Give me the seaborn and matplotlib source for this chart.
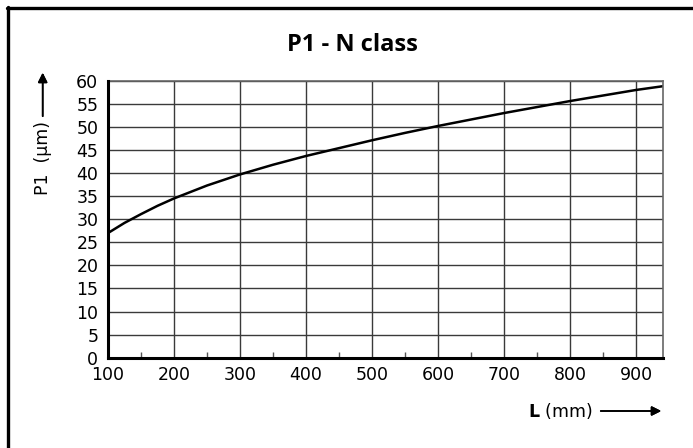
import numpy as np
import pandas as pd
import seaborn as sns
import matplotlib
matplotlib.use("Agg")
import matplotlib.pyplot as plt
from matplotlib.lines import Line2D

# Data
L_mm = [100, 125, 150, 175, 200, 225, 250, 275, 300, 350, 400, 450, 500, 550, 600, 650, 700, 750, 800, 850, 900, 940]
P1_um = [27.0, 29.2, 31.1, 32.9, 34.5, 35.9, 37.3, 38.5, 39.7, 41.8, 43.7, 45.4, 47.1, 48.7, 50.2, 51.6, 53.0, 54.3, 55.6, 56.8, 58.0, 58.8]
x_ticks = [100, 200, 300, 400, 500, 600, 700, 800, 900]
x_minor = [150, 250, 350, 450, 550, 650, 750, 850]
y_ticks = list(range(0, 61, 5))
title = "P1 - N class"

df = pd.DataFrame({"L": L_mm, "P1": P1_um})

sns.set_theme(style="white")
plt.rcParams['font.family'] = ['DejaVu Sans']
plt.rcParams['text.color'] = 'black'
plt.rcParams['xtick.color'] = 'black'
plt.rcParams['ytick.color'] = 'black'

W, H = 693, 448
fig = plt.figure(figsize=(W / 100, H / 100), dpi=100)
ax = fig.add_axes([108 / W, 1 - 357.7 / H, (662.7 - 108) / W, (357.7 - 80.7) / H])

sns.lineplot(data=df, x="L", y="P1", ax=ax, color="black", linewidth=1.8)

ax.set_xlim(100, 940)
ax.set_ylim(0, 60)
ax.set_xticks(x_ticks)
ax.set_xticks(x_minor, minor=True)
ax.set_yticks(y_ticks)
ax.set_xticklabels([str(v) for v in x_ticks], fontsize=12.5, color="black")
ax.set_yticklabels([str(v) for v in y_ticks], fontsize=12.5, color="black")
ax.tick_params(axis="x", which="major", direction="out", length=4, width=1.2, color="#333333", pad=2)
ax.tick_params(axis="x", which="minor", direction="in", length=4, width=1, color="#555555", bottom=True)
ax.tick_params(axis="y", which="major", direction="out", length=6, width=1.2, color="#555555", pad=1)
ax.grid(True, which="major", color="#3a3a3a", linewidth=1.0)
ax.set_xlabel("")
ax.set_ylabel("")

for s in ["left", "bottom"]:
    ax.spines[s].set_color("black")
    ax.spines[s].set_linewidth(2.2)
    ax.spines[s].set_zorder(5)
for s in ["top", "right"]:
    ax.spines[s].set_color("#666666")
    ax.spines[s].set_linewidth(1.2)

# Title
fig.text(352 / W, 1 - 45 / H, title, ha="center", va="center", fontsize=17,
         fontweight="bold", family=["Open Sans", "DejaVu Sans"], color="black")

# Y label with arrow
fig.text(42.5 / W, 1 - 158 / H, "P1  (μm)", rotation=90, ha="center", va="center",
         fontsize=12.5, color="black")
fig.add_artist(plt.annotate("", xy=(42.7 / W, 1 - 70 / H), xytext=(42.7 / W, 1 - 119 / H),
                            xycoords="figure fraction", textcoords="figure fraction",
                            arrowprops=dict(arrowstyle="-|>", color="black", lw=1.2,
                                            mutation_scale=14)))

# X label with arrow
fig.text(592 / W, 1 - 411 / H, r"$\mathbf{L}$ (mm)", ha="right", va="center",
         fontsize=12.5, color="black")
fig.add_artist(plt.annotate("", xy=(664 / W, 1 - 411 / H), xytext=(598 / W, 1 - 411 / H),
                            xycoords="figure fraction", textcoords="figure fraction",
                            arrowprops=dict(arrowstyle="-|>", color="black", lw=1.2,
                                            mutation_scale=14)))

# Frame lines (left and top)
fig.add_artist(Line2D([8 / W, 8 / W], [0, 1 - 7 / H], transform=fig.transFigure, color="black", lw=2.4))
fig.add_artist(Line2D([7 / W, 1], [1 - 8 / H, 1 - 8 / H], transform=fig.transFigure, color="black", lw=2.4))

fig.savefig("out.png", dpi=100)
